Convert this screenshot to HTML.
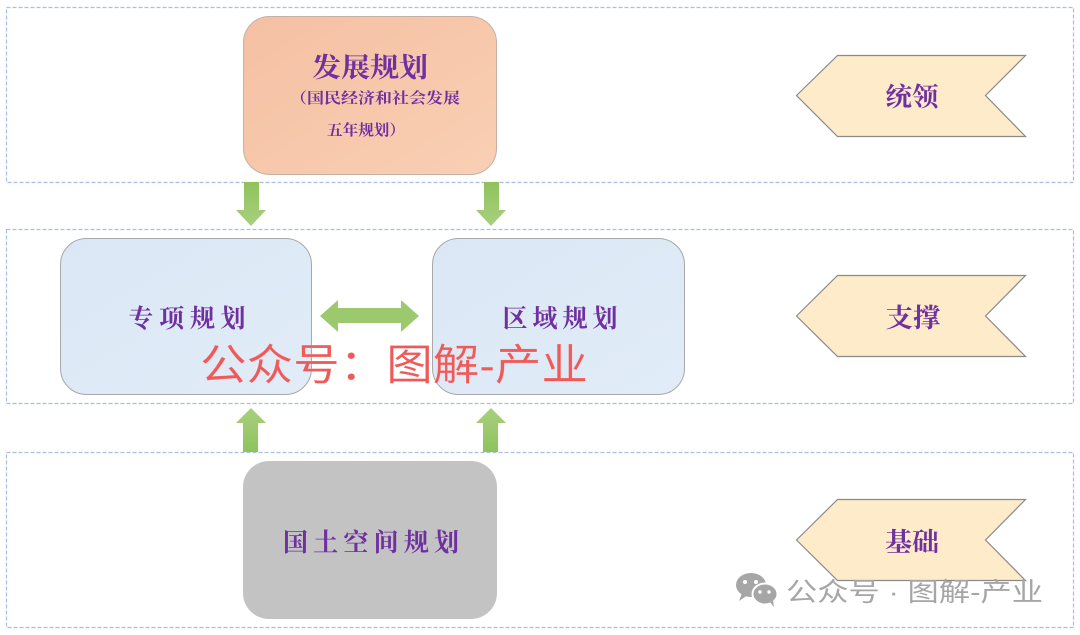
<!DOCTYPE html>
<html>
<head>
<meta charset="utf-8">
<style>
html,body{margin:0;padding:0;background:#fff;}
svg{display:block;}
text{font-family:"Liberation Serif","Noto Serif CJK SC",serif;}
</style>
</head>
<body>
<svg width="1080" height="635" viewBox="0 0 1080 635" xmlns="http://www.w3.org/2000/svg">
<defs>
<linearGradient id="gor" x1="0" y1="0" x2="1" y2="1">
<stop offset="0" stop-color="#f5c0a3"/><stop offset="1" stop-color="#f9cfb3"/>
</linearGradient>
<linearGradient id="gbl" x1="0" y1="0" x2="1" y2="1">
<stop offset="0" stop-color="#dbe7f5"/><stop offset="1" stop-color="#e1ecf8"/>
</linearGradient>
<linearGradient id="ggr" x1="0" y1="0" x2="0" y2="1">
<stop offset="0" stop-color="#8fc25c"/><stop offset="1" stop-color="#a8d07e"/>
</linearGradient>
<linearGradient id="ggr2" x1="0" y1="0" x2="0" y2="1">
<stop offset="0" stop-color="#a8d07e"/><stop offset="1" stop-color="#8fc25c"/>
</linearGradient>
</defs>

<!-- dashed region boxes -->
<rect x="6.5" y="7.5" width="1067" height="175" fill="none" stroke="#a9bfdc" stroke-width="1.2" stroke-dasharray="4,2"/>
<rect x="6.5" y="229.5" width="1067" height="174" fill="none" stroke="#a9bfdc" stroke-width="1.2" stroke-dasharray="4,2"/>
<rect x="6.5" y="452.5" width="1067" height="175" fill="none" stroke="#a9bfdc" stroke-width="1.2" stroke-dasharray="4,2"/>

<!-- top box -->
<rect x="243.5" y="16.5" width="253" height="158" rx="26" fill="url(#gor)" stroke="#c4b0a6" stroke-width="1"/>
<text x="370" y="77" text-anchor="middle" font-size="27" font-weight="bold" fill="#7030a0" textLength="116" lengthAdjust="spacingAndGlyphs">发展规划</text>
<text x="375" y="103" text-anchor="middle" font-size="15" font-weight="bold" fill="#7030a0" textLength="170" lengthAdjust="spacingAndGlyphs">（国民经济和社会发展</text>
<text x="366" y="135" text-anchor="middle" font-size="15" font-weight="bold" fill="#7030a0" textLength="78" lengthAdjust="spacingAndGlyphs">五年规划）</text>

<!-- down arrows -->
<polygon points="244,182 259,182 259,210 266,210 251,226 236,210 244,210" fill="url(#ggr)"/>
<polygon points="484,182 499,182 499,210 506,210 491,226 476,210 484,210" fill="url(#ggr)"/>

<!-- middle boxes -->
<rect x="60.5" y="238.5" width="251" height="156" rx="26" fill="url(#gbl)" stroke="#a8a8a8" stroke-width="1"/>
<rect x="432.5" y="238.5" width="252" height="156" rx="26" fill="url(#gbl)" stroke="#a8a8a8" stroke-width="1"/>
<text x="187" y="327" text-anchor="middle" font-size="25" font-weight="bold" fill="#7030a0" textLength="117" lengthAdjust="spacing">专项规划</text>
<text x="560" y="327" text-anchor="middle" font-size="25" font-weight="bold" fill="#7030a0" textLength="115" lengthAdjust="spacing">区域规划</text>

<!-- double arrow -->
<polygon points="320,316 338,300 338,308 401,308 401,300 419,316 401,332 401,323 338,323 338,332" fill="#9cc96d"/>

<!-- up arrows -->
<polygon points="251,408 266,423 258,423 258,452 243,452 243,423 236,423" fill="url(#ggr2)"/>
<polygon points="491,408 506,423 498,423 498,452 483,452 483,423 476,423" fill="url(#ggr2)"/>

<!-- bottom gray box -->
<rect x="243" y="461" width="254" height="158" rx="26" fill="#c3c3c3"/>
<text x="371" y="551" text-anchor="middle" font-size="25" font-weight="bold" fill="#7030a0" textLength="176" lengthAdjust="spacing">国土空间规划</text>

<!-- chevrons -->
<polygon points="796.5,95.5 837.5,55.5 1025.5,55.5 985.5,95.5 1025.5,136.5 837.5,136.5" fill="#fdebc9" stroke="#8a8a8a" stroke-width="1.2"/>
<text x="912" y="106" text-anchor="middle" font-size="26" font-weight="bold" fill="#7030a0" textLength="53" lengthAdjust="spacingAndGlyphs">统领</text>
<polygon points="796.5,316 837.5,275.5 1025.5,275.5 985.5,316 1025.5,356.5 837.5,356.5" fill="#fdebc9" stroke="#8a8a8a" stroke-width="1.2"/>
<text x="913" y="327" text-anchor="middle" font-size="26" font-weight="bold" fill="#7030a0" textLength="55" lengthAdjust="spacingAndGlyphs">支撑</text>
<polygon points="796.5,540 837.5,499.5 1025.5,499.5 985.5,540 1025.5,580.5 837.5,580.5" fill="#fdebc9" stroke="#8a8a8a" stroke-width="1.2"/>
<text x="912" y="551" text-anchor="middle" font-size="26" font-weight="bold" fill="#7030a0" textLength="54" lengthAdjust="spacingAndGlyphs">基础</text>

<!-- red watermark -->
<text x="200" y="380" font-size="43" fill="#ee5a5a" stroke="#fff" stroke-opacity="0.3" stroke-width="0.5" style="font-family:'Liberation Sans','Noto Sans CJK SC',sans-serif" textLength="388" lengthAdjust="spacingAndGlyphs">公众号：图解-产业</text>

<!-- bottom-right watermark -->
<g fill="#a6a6a6">
<ellipse cx="751" cy="585" rx="15" ry="12"/>
<polygon points="742,593 739,601 748,595"/>
<ellipse cx="765" cy="594" rx="12.5" ry="10.5" stroke="#fff" stroke-width="2"/>
<polygon points="770,602 774,607 773,600"/>
</g>
<g fill="#fff">
<circle cx="745" cy="582" r="2"/><circle cx="756" cy="582" r="2"/>
<circle cx="760" cy="592" r="1.7"/><circle cx="769" cy="592" r="1.7"/>
</g>
<text x="786" y="601" font-size="26" fill="#a6a6a6" style="font-family:'Liberation Sans','Noto Sans CJK SC',sans-serif" textLength="257" lengthAdjust="spacingAndGlyphs">公众号 · 图解-产业</text>
</svg>
</body>
</html>
